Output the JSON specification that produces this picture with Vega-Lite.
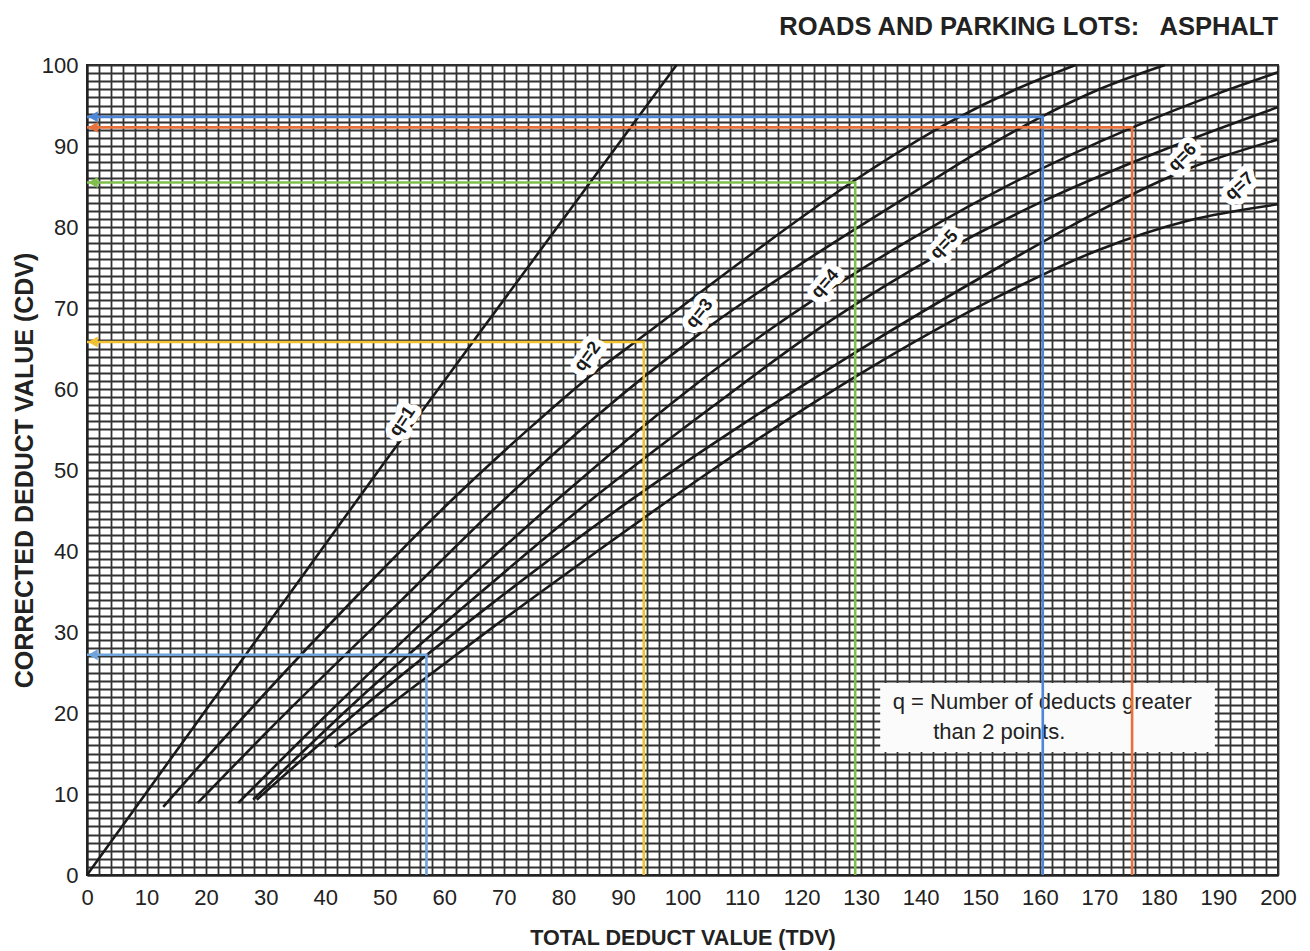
{
  "$schema": "https://vega.github.io/schema/vega-lite/v6.json",
  "width": 1191,
  "height": 810,
  "autosize": {"type": "none"},
  "padding": {"left": 87, "top": 65, "right": 32, "bottom": 76},
  "background": "white",
  "config": {"view": {"stroke": "#222", "strokeWidth": 2}},
  "title": {
    "text": "ROADS AND PARKING LOTS:\u00a0\u00a0 ASPHALT",
    "anchor": "end",
    "frame": "group",
    "font": "Liberation Sans, Arial, sans-serif",
    "fontSize": 25.5,
    "fontWeight": "bold",
    "color": "#222",
    "offset": 14
  },
  "datasets": {
    "curves": [
      {"q": "q=1", "tdv": 0, "cdv": 0}, {"q": "q=1", "tdv": 25, "cdv": 25.5}, {"q": "q=1", "tdv": 50, "cdv": 51}, {"q": "q=1", "tdv": 75, "cdv": 76}, {"q": "q=1", "tdv": 99, "cdv": 100},
      {"q": "q=2", "tdv": 12.8, "cdv": 8.4}, {"q": "q=2", "tdv": 20, "cdv": 14.4}, {"q": "q=2", "tdv": 30, "cdv": 22.5}, {"q": "q=2", "tdv": 45, "cdv": 34.2}, {"q": "q=2", "tdv": 60, "cdv": 45.4}, {"q": "q=2", "tdv": 75, "cdv": 55.6}, {"q": "q=2", "tdv": 84, "cdv": 61.3}, {"q": "q=2", "tdv": 93.5, "cdv": 66.6}, {"q": "q=2", "tdv": 110, "cdv": 75.8}, {"q": "q=2", "tdv": 129, "cdv": 85.8}, {"q": "q=2", "tdv": 145, "cdv": 93}, {"q": "q=2", "tdv": 156, "cdv": 97}, {"q": "q=2", "tdv": 166, "cdv": 100},
      {"q": "q=3", "tdv": 18.6, "cdv": 8.9}, {"q": "q=3", "tdv": 30, "cdv": 17.5}, {"q": "q=3", "tdv": 52.9, "cdv": 34}, {"q": "q=3", "tdv": 70, "cdv": 46.3}, {"q": "q=3", "tdv": 85, "cdv": 56.3}, {"q": "q=3", "tdv": 103, "cdv": 66.9}, {"q": "q=3", "tdv": 120, "cdv": 75.5}, {"q": "q=3", "tdv": 136.5, "cdv": 83.2}, {"q": "q=3", "tdv": 150, "cdv": 89.4}, {"q": "q=3", "tdv": 160, "cdv": 93.5}, {"q": "q=3", "tdv": 170, "cdv": 97}, {"q": "q=3", "tdv": 181, "cdv": 100},
      {"q": "q=4", "tdv": 25.4, "cdv": 8.9}, {"q": "q=4", "tdv": 40, "cdv": 19.6}, {"q": "q=4", "tdv": 60.4, "cdv": 34}, {"q": "q=4", "tdv": 80, "cdv": 47}, {"q": "q=4", "tdv": 100, "cdv": 59.3}, {"q": "q=4", "tdv": 115, "cdv": 67.5}, {"q": "q=4", "tdv": 129, "cdv": 74.3}, {"q": "q=4", "tdv": 153, "cdv": 84.5}, {"q": "q=4", "tdv": 175.6, "cdv": 92.3}, {"q": "q=4", "tdv": 190, "cdv": 96.5}, {"q": "q=4", "tdv": 200, "cdv": 99.1},
      {"q": "q=5", "tdv": 27.9, "cdv": 9.3}, {"q": "q=5", "tdv": 45, "cdv": 21.3}, {"q": "q=5", "tdv": 64.7, "cdv": 34}, {"q": "q=5", "tdv": 85, "cdv": 46.5}, {"q": "q=5", "tdv": 105, "cdv": 57.8}, {"q": "q=5", "tdv": 125, "cdv": 68.5}, {"q": "q=5", "tdv": 144, "cdv": 77}, {"q": "q=5", "tdv": 160, "cdv": 83}, {"q": "q=5", "tdv": 180, "cdv": 89.3}, {"q": "q=5", "tdv": 200, "cdv": 94.8},
      {"q": "q=6", "tdv": 28.5, "cdv": 9.3}, {"q": "q=6", "tdv": 45, "cdv": 19.9}, {"q": "q=6", "tdv": 68, "cdv": 33.5}, {"q": "q=6", "tdv": 90, "cdv": 45.6}, {"q": "q=6", "tdv": 110, "cdv": 55.6}, {"q": "q=6", "tdv": 129, "cdv": 64.5}, {"q": "q=6", "tdv": 153, "cdv": 75}, {"q": "q=6", "tdv": 170, "cdv": 82}, {"q": "q=6", "tdv": 185, "cdv": 87.2}, {"q": "q=6", "tdv": 200, "cdv": 90.8},
      {"q": "q=7", "tdv": 41.6, "cdv": 15.8}, {"q": "q=7", "tdv": 55, "cdv": 23.3}, {"q": "q=7", "tdv": 66, "cdv": 29.4}, {"q": "q=7", "tdv": 85, "cdv": 39.6}, {"q": "q=7", "tdv": 105, "cdv": 50}, {"q": "q=7", "tdv": 129, "cdv": 61.5}, {"q": "q=7", "tdv": 153, "cdv": 71.4}, {"q": "q=7", "tdv": 170, "cdv": 77.2}, {"q": "q=7", "tdv": 185, "cdv": 80.8}, {"q": "q=7", "tdv": 200, "cdv": 82.8}
    ],
    "readings": [
      {"r": "yellow", "o": 0, "tdv": 0, "cdv": 65.8}, {"r": "yellow", "o": 1, "tdv": 93.5, "cdv": 65.8}, {"r": "yellow", "o": 2, "tdv": 93.5, "cdv": 0},
      {"r": "green", "o": 0, "tdv": 0, "cdv": 85.5}, {"r": "green", "o": 1, "tdv": 129, "cdv": 85.5}, {"r": "green", "o": 2, "tdv": 129, "cdv": 0},
      {"r": "blue", "o": 0, "tdv": 0, "cdv": 93.6}, {"r": "blue", "o": 1, "tdv": 160.5, "cdv": 93.6}, {"r": "blue", "o": 2, "tdv": 160.5, "cdv": 0},
      {"r": "orange", "o": 0, "tdv": 0, "cdv": 92.3}, {"r": "orange", "o": 1, "tdv": 175.5, "cdv": 92.3}, {"r": "orange", "o": 2, "tdv": 175.5, "cdv": 0},
      {"r": "lightblue", "o": 0, "tdv": 0, "cdv": 27.2}, {"r": "lightblue", "o": 1, "tdv": 57, "cdv": 27.2}, {"r": "lightblue", "o": 2, "tdv": 57, "cdv": 0}
    ],
    "labels": [
      {"q": "q=1", "tdv": 53, "cdv": 56},
      {"q": "q=2", "tdv": 84.1, "cdv": 64},
      {"q": "q=3", "tdv": 102.9, "cdv": 69.3},
      {"q": "q=4", "tdv": 124, "cdv": 73},
      {"q": "q=5", "tdv": 144, "cdv": 77.8},
      {"q": "q=6", "tdv": 184, "cdv": 88.6},
      {"q": "q=7", "tdv": 193.6, "cdv": 85}
    ],
    "notebox": [{"tdv": 133.2, "tdv2": 189.4, "cdv": 15.2, "cdv2": 23.7}],
    "notetext": [
      {"t": "q = Number of deducts greater", "tdv": 135.3, "cdv": 21.4},
      {"t": "than 2 points.", "tdv": 142.1, "cdv": 17.65}
    ]
  },
  "layer": [
    {
      "data": {"name": "curves"},
      "mark": {"type": "line", "color": "#1a1a1a", "strokeWidth": 2.6, "interpolate": "monotone"},
      "encoding": {
        "x": {
          "field": "tdv", "type": "quantitative",
          "scale": {"domain": [0, 200], "nice": false, "zero": false},
          "axis": {
            "values": [0,2,4,6,8,10,12,14,16,18,20,22,24,26,28,30,32,34,36,38,40,42,44,46,48,50,52,54,56,58,60,62,64,66,68,70,72,74,76,78,80,82,84,86,88,90,92,94,96,98,100,102,104,106,108,110,112,114,116,118,120,122,124,126,128,130,132,134,136,138,140,142,144,146,148,150,152,154,156,158,160,162,164,166,168,170,172,174,176,178,180,182,184,186,188,190,192,194,196,198,200],
            "tickCount": 500,
            "format": "d",
            "labelExpr": "datum.value % 10 === 0 ? datum.label : ''",
            "labelOverlap": false,
            "labelBound": false,
            "labelFlush": false,
            "ticks": false,
            "grid": true,
            "gridColor": "#333333",
            "gridWidth": 1.8,
            "gridOpacity": 1,
            "domainColor": "#222",
            "domainWidth": 2,
            "labelFont": "Liberation Sans, Arial, sans-serif",
            "labelFontSize": 22,
            "labelPadding": 12,
            "labelColor": "#222",
            "title": "TOTAL DEDUCT VALUE (TDV)",
            "titleFont": "Liberation Sans, Arial, sans-serif",
            "titleFontSize": 21.5,
            "titleFontWeight": "bold",
            "titleColor": "#222",
            "titlePadding": 19
          }
        },
        "y": {
          "field": "cdv", "type": "quantitative",
          "scale": {"domain": [0, 100], "nice": false, "zero": false},
          "axis": {
            "values": [0,1,2,3,4,5,6,7,8,9,10,11,12,13,14,15,16,17,18,19,20,21,22,23,24,25,26,27,28,29,30,31,32,33,34,35,36,37,38,39,40,41,42,43,44,45,46,47,48,49,50,51,52,53,54,55,56,57,58,59,60,61,62,63,64,65,66,67,68,69,70,71,72,73,74,75,76,77,78,79,80,81,82,83,84,85,86,87,88,89,90,91,92,93,94,95,96,97,98,99,100],
            "tickCount": 500,
            "format": "d",
            "labelExpr": "datum.value % 10 === 0 ? datum.label : ''",
            "labelOverlap": false,
            "labelBound": false,
            "labelFlush": false,
            "ticks": false,
            "grid": true,
            "gridColor": "#333333",
            "gridWidth": 1.8,
            "gridOpacity": 1,
            "domainColor": "#222",
            "domainWidth": 2,
            "labelFont": "Liberation Sans, Arial, sans-serif",
            "labelFontSize": 22,
            "labelPadding": 9,
            "labelColor": "#222",
            "title": "CORRECTED DEDUCT VALUE (CDV)",
            "titleFont": "Liberation Sans, Arial, sans-serif",
            "titleFontSize": 25,
            "titleFontWeight": "bold",
            "titleColor": "#222",
            "titlePadding": 4
          }
        },
        "detail": {"field": "q"}
      }
    },
    {
      "data": {"name": "notebox"},
      "mark": {"type": "rect", "fill": "#fbfbfb", "stroke": null},
      "encoding": {
        "x": {"field": "tdv", "type": "quantitative"},
        "x2": {"field": "tdv2"},
        "y": {"field": "cdv", "type": "quantitative"},
        "y2": {"field": "cdv2"}
      }
    },
    {
      "data": {"name": "notetext"},
      "mark": {"type": "text", "align": "left", "baseline": "middle", "font": "Liberation Sans, Arial, sans-serif", "fontSize": 22, "color": "#222"},
      "encoding": {
        "x": {"field": "tdv", "type": "quantitative"},
        "y": {"field": "cdv", "type": "quantitative"},
        "text": {"field": "t"}
      }
    },
    {
      "data": {"name": "readings"},
      "mark": {"type": "line", "strokeWidth": 2.6},
      "encoding": {
        "x": {"field": "tdv", "type": "quantitative"},
        "y": {"field": "cdv", "type": "quantitative"},
        "order": {"field": "o"},
        "color": {
          "field": "r", "type": "nominal",
          "scale": {"domain": ["yellow", "green", "blue", "orange", "lightblue"], "range": ["#f0c232", "#7fbf4d", "#4f86d8", "#e8703a", "#6fa3dc"]},
          "legend": null
        }
      }
    },
    {
      "data": {"name": "readings"},
      "transform": [{"filter": "datum.o === 0"}],
      "mark": {"type": "point", "shape": "triangle-left", "filled": true, "size": 120, "opacity": 1, "xOffset": 6},
      "encoding": {
        "x": {"field": "tdv", "type": "quantitative"},
        "y": {"field": "cdv", "type": "quantitative"},
        "color": {"field": "r", "type": "nominal", "legend": null}
      }
    },
    {
      "data": {"name": "labels"},
      "mark": {"type": "text", "align": "center", "baseline": "middle", "font": "Liberation Sans, Arial, sans-serif", "fontSize": 18, "fontWeight": "bold", "fill": "white", "stroke": "white", "strokeWidth": 12, "strokeJoin": "round"},
      "encoding": {
        "x": {"field": "tdv", "type": "quantitative"},
        "y": {"field": "cdv", "type": "quantitative"},
        "text": {"field": "q"},
        "angle": {"field": "q", "type": "ordinal", "scale": {"domain": ["q=1", "q=2", "q=3", "q=4", "q=5", "q=6", "q=7"], "range": [-56, -42, -38, -34, -31, -22, -20]}, "legend": null}
      }
    },
    {
      "data": {"name": "labels"},
      "mark": {"type": "text", "align": "center", "baseline": "middle", "font": "Liberation Sans, Arial, sans-serif", "fontSize": 18, "fontWeight": "bold", "fill": "#1a1a1a"},
      "encoding": {
        "x": {"field": "tdv", "type": "quantitative"},
        "y": {"field": "cdv", "type": "quantitative"},
        "text": {"field": "q"},
        "angle": {"field": "q", "type": "ordinal", "scale": {"domain": ["q=1", "q=2", "q=3", "q=4", "q=5", "q=6", "q=7"], "range": [-56, -42, -38, -34, -31, -22, -20]}, "legend": null}
      }
    }
  ]
}
